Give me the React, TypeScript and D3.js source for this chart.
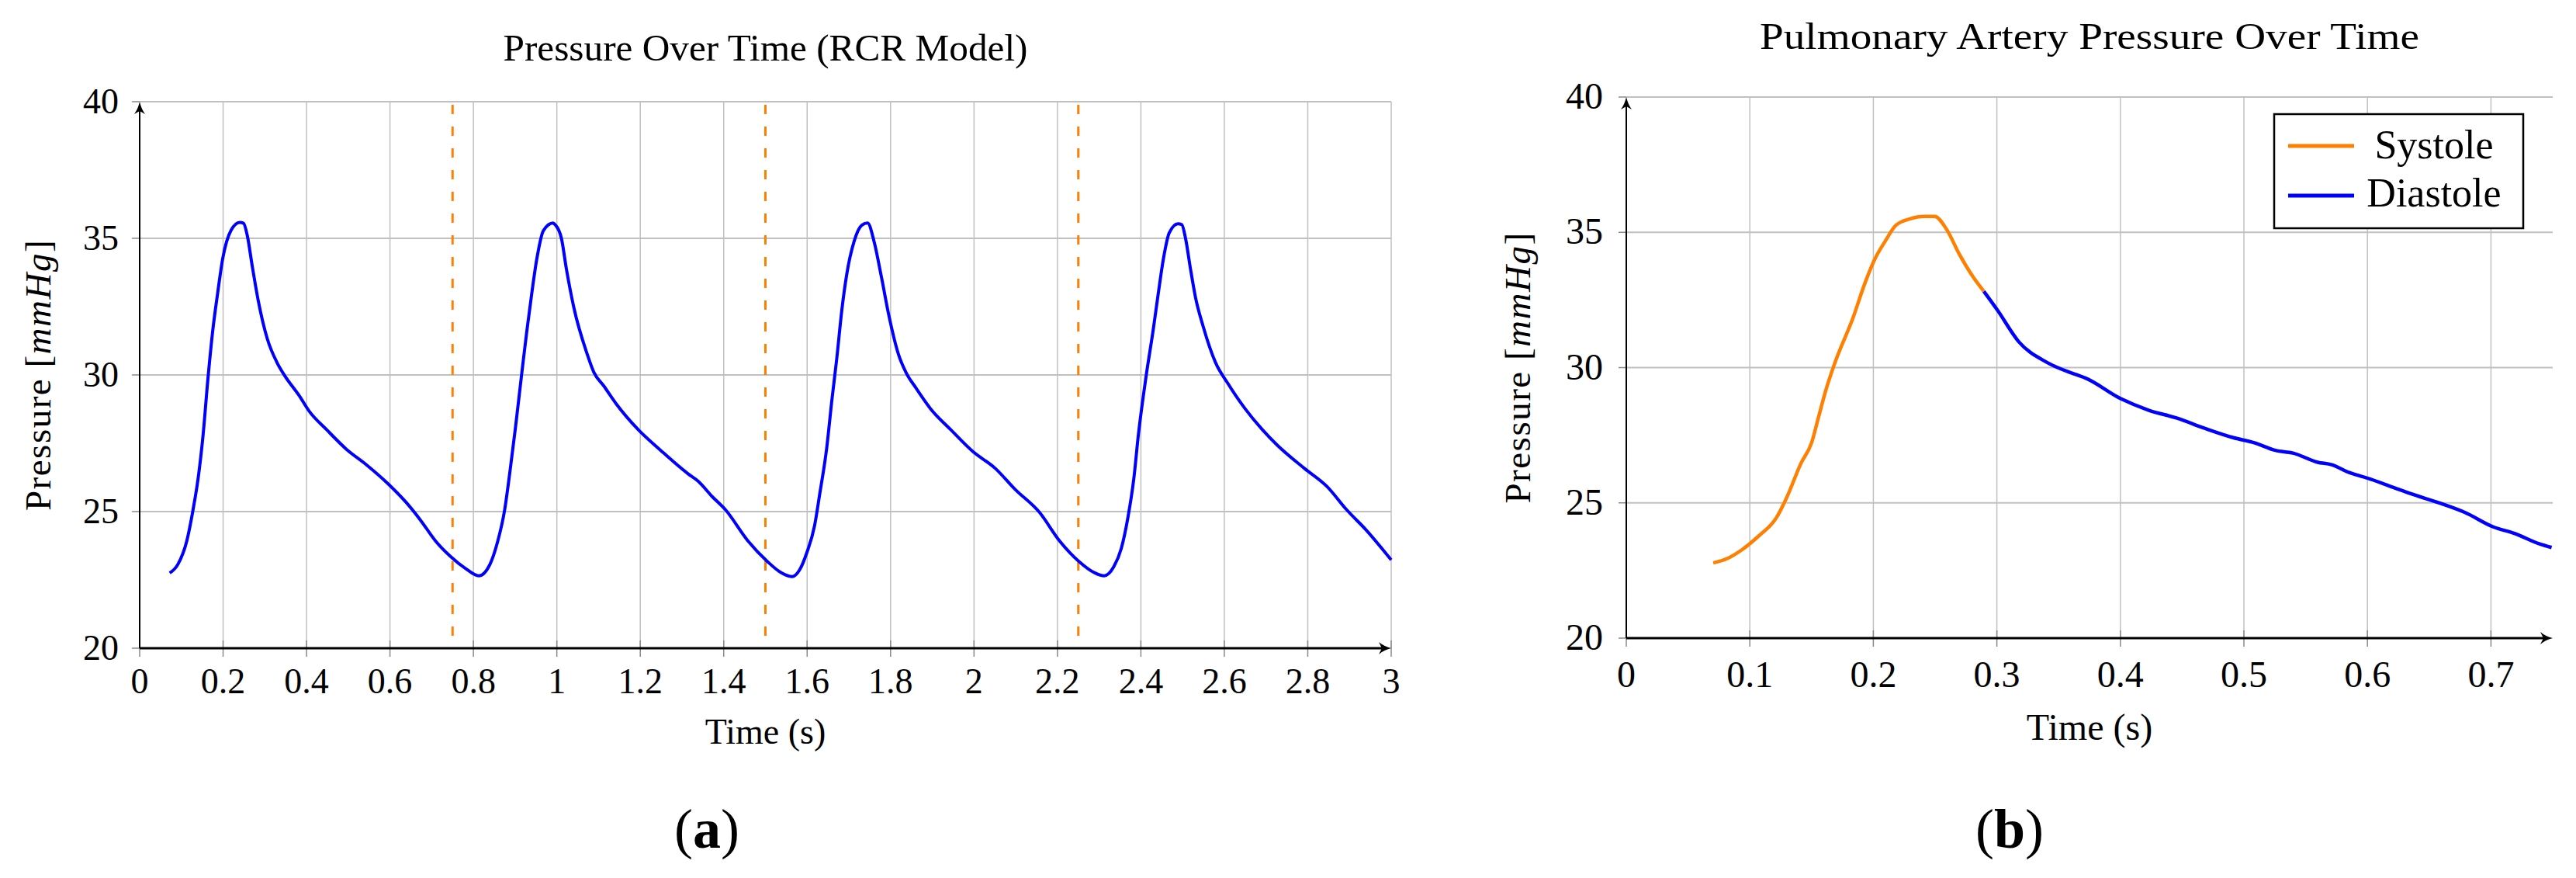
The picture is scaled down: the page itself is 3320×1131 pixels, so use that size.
import * as d3 from "d3";
import type { ReactNode } from "react";

// panel (a): RCR model, four cycles
const rcrTime = [
  0.072, 0.092, 0.113, 0.128, 0.14, 0.152, 0.163, 0.175, 0.187, 0.199, 0.219, 0.24, 0.249, 0.258, 0.27, 0.284,
  0.306, 0.329, 0.347, 0.383, 0.407, 0.448, 0.495, 0.543, 0.596, 0.638, 0.673, 0.709, 0.745, 0.78, 0.813,
  0.84, 0.857, 0.875, 0.887, 0.901, 0.917, 0.928, 0.94, 0.952, 0.968, 0.991, 0.996, 1.011, 1.023, 1.041,
  1.071, 1.089, 1.112, 1.142, 1.195, 1.249, 1.314, 1.339, 1.373, 1.404, 1.458, 1.505, 1.535, 1.564,
  1.582, 1.6, 1.618, 1.63, 1.647, 1.659, 1.671, 1.683, 1.695, 1.713, 1.731, 1.745, 1.76, 1.778, 1.796,
  1.819, 1.837, 1.861, 1.896, 1.944, 1.997, 2.051, 2.098, 2.157, 2.205, 2.252, 2.288, 2.312, 2.335,
  2.353, 2.369, 2.383, 2.394, 2.412, 2.43, 2.442, 2.454, 2.468, 2.489, 2.498, 2.507, 2.519, 2.531,
  2.549, 2.579, 2.608, 2.65, 2.691, 2.727, 2.792, 2.846, 2.893, 2.941, 3.0,
];
const rcrPressure = [
  22.75, 23.08, 23.93, 25.07, 26.2, 27.8, 29.75, 31.6, 33.0, 34.25, 35.29, 35.58, 35.55, 35.1, 33.97, 32.74,
  31.32, 30.46, 29.99, 29.23, 28.66, 28.0, 27.29, 26.72, 26.01, 25.35, 24.69, 23.93, 23.36, 22.93, 22.65,
  23.08, 23.84, 25.07, 26.39, 28.1, 30.2, 31.6, 33.0, 34.25, 35.29, 35.56, 35.5, 35.0, 33.87, 32.45,
  30.84, 30.09, 29.61, 28.95, 28.0, 27.24, 26.39, 26.11, 25.54, 25.07, 23.93, 23.17, 22.79, 22.62,
  22.87, 23.53, 24.5, 25.63, 27.34, 29.04, 30.6, 32.36, 33.69, 34.91, 35.48, 35.56, 34.91, 33.59, 32.17,
  30.75, 30.09, 29.52, 28.76, 28.0, 27.2, 26.58, 25.82, 24.97, 23.93, 23.17, 22.77, 22.65, 22.98,
  23.65, 24.79, 26.2, 27.81, 29.9, 31.7, 33.02, 34.25, 35.2, 35.53, 35.5, 35.0, 33.87, 32.83,
  31.79, 30.45, 29.7, 28.76, 28.0, 27.43, 26.58, 25.92, 25.07, 24.31, 23.23,
];
const cycleMarks = [0.75, 1.5, 2.25];

// panel (b): one cycle split into systole / diastole
const systoleTime = [
  0.0704, 0.0817, 0.0931, 0.1073, 0.1215, 0.13, 0.1414, 0.15, 0.1557, 0.1614, 0.1682, 0.1841, 0.1927,
  0.2012, 0.2097, 0.2183, 0.2297, 0.241, 0.2496, 0.2593, 0.2695, 0.2809, 0.2894,
];
const systolePressure = [
  22.78, 22.94, 23.25, 23.78, 24.45, 25.21, 26.46, 27.22, 28.18, 29.14, 30.09, 31.91, 33.06,
  34.01, 34.68, 35.26, 35.5, 35.59, 35.59, 35.11, 34.2, 33.34, 32.82,
];
const diastoleTime = [
  0.2894, 0.3008, 0.3178, 0.3406, 0.3634, 0.3719, 0.4003, 0.4231, 0.4459, 0.4686, 0.4914, 0.5085, 0.5255,
  0.5397, 0.5597, 0.571, 0.5852, 0.6023, 0.6222, 0.6336, 0.6592, 0.6791, 0.7019, 0.719, 0.7389, 0.7491,
];
const diastolePressure = [
  32.82, 32.1, 30.95, 30.19, 29.75, 29.61, 28.85, 28.42, 28.13, 27.75, 27.41, 27.22, 26.94,
  26.84, 26.5, 26.41, 26.12, 25.88, 25.55, 25.36, 24.98, 24.64, 24.11, 23.87, 23.49, 23.35,
];

const pressureTicks = [20, 25, 30, 35, 40];
const timeTicksA = [0, 0.2, 0.4, 0.6, 0.8, 1, 1.2, 1.4, 1.6, 1.8, 2, 2.2, 2.4, 2.6, 2.8, 3];
const timeTicksB = [0, 0.1, 0.2, 0.3, 0.4, 0.5, 0.6, 0.7];
const legendLabels = ["Systole", "Diastole"];

const BLUE = "#0000ff";
const ORANGE = "#ff8000";
const GRID = "#c0c0c0";
const FONT = "'Liberation Serif', 'Times New Roman', serif";

type Pt = { t: number; p: number };
const zip = (ts: number[], ps: number[]): Pt[] => ts.map((t, i) => ({ t, p: ps[i] }));

type Scale = d3.ScaleLinear<number, number>;

function Panel({
  left,
  right,
  top,
  bottom,
  xMax,
  xTicks,
  title,
  titleY,
  titleLength,
  fontSize,
  tickLabelGap,
  xTickBaseline,
  xLabelBaseline,
  yLabelX,
  children,
}: {
  left: number;
  right: number;
  top: number;
  bottom: number;
  xMax: number;
  xTicks: number[];
  title: string;
  titleY: number;
  titleLength: number;
  fontSize: number;
  tickLabelGap: number;
  xTickBaseline: number;
  xLabelBaseline: number;
  yLabelX: number;
  children: (x: Scale, y: Scale) => ReactNode;
}) {
  const x = d3.scaleLinear().domain([0, xMax]).range([left, right]);
  const y = d3.scaleLinear().domain([20, 40]).range([bottom, top]);
  const cx = (left + right) / 2;
  const cy = (top + bottom) / 2;

  return (
    <g fontFamily={FONT}>
      <text
        x={cx}
        y={titleY}
        textAnchor="middle"
        fontSize={48}
        textLength={titleLength}
        lengthAdjust="spacingAndGlyphs"
      >
        {title}
      </text>

      {/* grid */}
      {xTicks
        .filter((t) => t > 0)
        .map((t) => (
          <line key={"gx" + t} x1={x(t)} x2={x(t)} y1={top} y2={bottom} stroke={GRID} strokeWidth={1.5} />
        ))}
      {pressureTicks
        .filter((p) => p > 20)
        .map((p) => (
          <line key={"gy" + p} x1={left} x2={right} y1={y(p)} y2={y(p)} stroke={GRID} strokeWidth={1.8} />
        ))}

      {/* tick marks */}
      {xTicks.map((t) => (
        <line key={"tx" + t} x1={x(t)} x2={x(t)} y1={bottom - 10} y2={bottom + 11} stroke="#8a8a8a" strokeWidth={1.5} />
      ))}
      {pressureTicks.map((p) => (
        <line key={"ty" + p} x1={left - 10} x2={left} y1={y(p)} y2={y(p)} stroke="#8a8a8a" strokeWidth={1.5} />
      ))}

      {/* axis lines with arrows */}
      <line x1={left} x2={left} y1={bottom} y2={top + 6} stroke="#000" strokeWidth={2} />
      <path
        d={`M${left},${top} Q${left + 2},${top + 9} ${left + 7},${top + 16} L${left},${top + 12} L${left - 7},${top + 16} Q${left - 2},${top + 9} ${left},${top} Z`}
        fill="#000"
      />
      <line x1={left} x2={right - 6} y1={bottom} y2={bottom} stroke="#000" strokeWidth={3} />
      <path
        d={`M${right},${bottom} Q${right - 9},${bottom + 2} ${right - 16},${bottom + 8} L${right - 12},${bottom} L${right - 16},${bottom - 8} Q${right - 9},${bottom - 2} ${right},${bottom} Z`}
        fill="#000"
      />

      {/* tick labels */}
      {pressureTicks.map((p) => (
        <text key={"ly" + p} x={left - tickLabelGap} y={y(p) + 15} textAnchor="end" fontSize={fontSize}>
          {p}
        </text>
      ))}
      {xTicks.map((t) => (
        <text key={"lx" + t} x={x(t)} y={xTickBaseline} textAnchor="middle" fontSize={fontSize}>
          {String(t)}
        </text>
      ))}

      <text x={cx} y={xLabelBaseline} textAnchor="middle" fontSize={fontSize}>
        Time (s)
      </text>
      <text
        transform={`translate(${yLabelX},${cy}) rotate(-90)`}
        textAnchor="middle"
        fontSize={47}
        letterSpacing={1.5}
      >
        Pressure [<tspan fontStyle="italic">mmHg</tspan>]
      </text>

      {children(x, y)}
    </g>
  );
}

export default function App() {
  const rcr = zip(rcrTime, rcrPressure);
  const systole = zip(systoleTime, systolePressure);
  const diastole = zip(diastoleTime, diastolePressure);

  const lineFor = (x: Scale, y: Scale) =>
    d3
      .line<Pt>()
      .x((d) => x(d.t))
      .y((d) => y(d.p))
      .curve(d3.curveMonotoneX);

  return (
    <svg
      width={3320}
      height={1131}
      style={{ position: "absolute", left: 0, top: 0, background: "#fff" }}
    >
      <rect width={3320} height={1131} fill="#fff" />

      <Panel
        left={180}
        right={1793}
        top={131}
        bottom={835}
        xMax={3}
        xTicks={timeTicksA}
        title="Pressure Over Time (RCR Model)"
        titleY={78}
        titleLength={676}
        fontSize={46}
        tickLabelGap={27}
        xTickBaseline={893}
        xLabelBaseline={958}
        yLabelX={65}
      >
        {(x, y) => (
          <g>
            {cycleMarks.map((t) => (
              <line
                key={"cm" + t}
                x1={x(t)}
                x2={x(t)}
                y1={y(40) + 4}
                y2={y(20)}
                stroke={ORANGE}
                strokeWidth={3}
                strokeDasharray="12 16"
              />
            ))}
            <path d={lineFor(x, y)(rcr) ?? ""} fill="none" stroke={BLUE} strokeWidth={4} strokeLinejoin="round" />
          </g>
        )}
      </Panel>

      <Panel
        left={2096}
        right={3290}
        top={125}
        bottom={822}
        xMax={0.75}
        xTicks={timeTicksB}
        title="Pulmonary Artery Pressure Over Time"
        titleY={63}
        titleLength={850}
        fontSize={48}
        tickLabelGap={30}
        xTickBaseline={885}
        xLabelBaseline={953}
        yLabelX={1972}
      >
        {(x, y) => (
          <g>
            <path d={lineFor(x, y)(diastole) ?? ""} fill="none" stroke={BLUE} strokeWidth={4.5} strokeLinejoin="round" />
            <path d={lineFor(x, y)(systole) ?? ""} fill="none" stroke={ORANGE} strokeWidth={4.5} strokeLinejoin="round" />
            <g>
              <rect x={2931} y={147} width={321} height={147} fill="#fff" stroke="#000" strokeWidth={2.5} />
              {legendLabels.map((label, i) => (
                <g key={label}>
                  <line
                    x1={2949}
                    x2={3034}
                    y1={188 + i * 64}
                    y2={188 + i * 64}
                    stroke={i === 0 ? ORANGE : BLUE}
                    strokeWidth={5}
                  />
                  <text x={3137} y={204 + i * 62} textAnchor="middle" fontSize={52}>
                    {label}
                  </text>
                </g>
              ))}
            </g>
          </g>
        )}
      </Panel>

      <text x={911} y={1092} textAnchor="middle" fontSize={72} fontFamily={FONT}>
        (<tspan fontWeight="bold">a</tspan>)
      </text>
      <text x={2590} y={1092} textAnchor="middle" fontSize={72} fontFamily={FONT}>
        (<tspan fontWeight="bold">b</tspan>)
      </text>
    </svg>
  );
}
